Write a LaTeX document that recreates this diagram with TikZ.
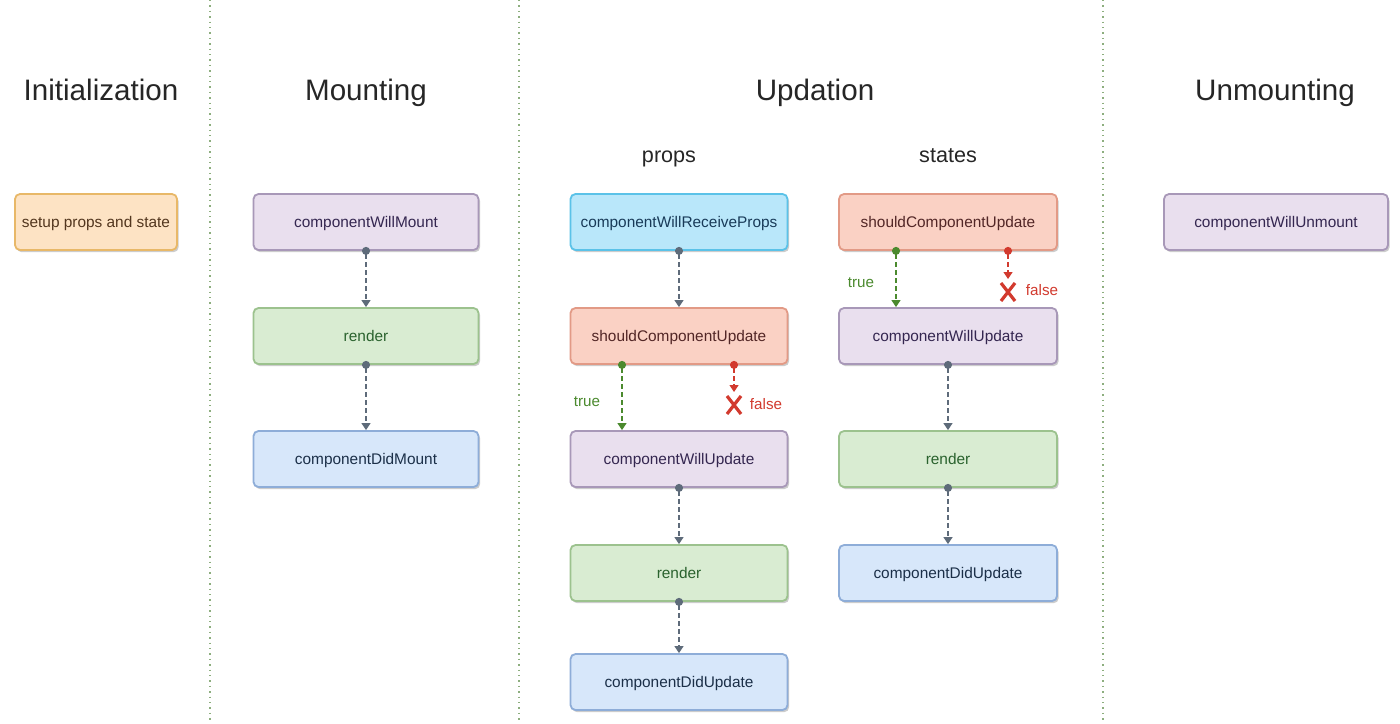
\documentclass[tikz,border=0pt]{standalone}
\usepackage{fontspec}
\setmainfont{Liberation Sans}
\usetikzlibrary{arrows.meta,shadows}
\definecolor{purpfill}{HTML}{E9DFEE}\definecolor{purpline}{HTML}{A898B8}\definecolor{purptext}{HTML}{342650}
\definecolor{grnfill}{HTML}{D9ECD2}\definecolor{grnline}{HTML}{9CC28E}\definecolor{grntext}{HTML}{2A622E}
\definecolor{bluefill}{HTML}{D7E7FA}\definecolor{blueline}{HTML}{8EADD8}\definecolor{bluetext}{HTML}{1B2F48}
\definecolor{cyanfill}{HTML}{B9E7FA}\definecolor{cyanline}{HTML}{5BC2E8}\definecolor{cyantext}{HTML}{183A58}
\definecolor{salmfill}{HTML}{FAD1C4}\definecolor{salmline}{HTML}{E29A86}\definecolor{salmtext}{HTML}{522626}
\definecolor{orgfill}{HTML}{FDE3C4}\definecolor{orgline}{HTML}{E8B868}\definecolor{orgtext}{HTML}{52361E}
\definecolor{flowgray}{HTML}{5E6B7A}\definecolor{yesgreen}{HTML}{4B8A2E}\definecolor{nored}{HTML}{D23A2E}
\definecolor{divgreen}{HTML}{8DAE7E}

\begin{document}
\begin{tikzpicture}[x=0.5pt,y=-0.5pt,
  box/.style={draw,line width=0.9pt,rounded corners=2.5pt,minimum height=28pt,
    text height=5.5pt,text depth=0pt,
    font=\fontsize{7.7}{9}\selectfont,
    drop shadow={shadow xshift=0.8pt,shadow yshift=-1.1pt,opacity=0.4}},
  purp/.style={box,fill=purpfill,draw=purpline,text=purptext},
  grn/.style={box,fill=grnfill,draw=grnline,text=grntext},
  blu/.style={box,fill=bluefill,draw=blueline,text=bluetext},
  cyn/.style={box,fill=cyanfill,draw=cyanline,text=cyantext},
  salm/.style={box,fill=salmfill,draw=salmline,text=salmtext},
  org/.style={box,fill=orgfill,draw=orgline,text=orgtext},
  phase/.style={anchor=base,font=\fontsize{14.8}{18}\selectfont,text=black!85},
  sub/.style={anchor=base,font=\fontsize{10.8}{13}\selectfont,text=black!85},
  flow/.style={flowgray,line width=0.6pt,dash pattern=on 2.5pt off 1.5pt,shorten <=-2pt,
    {Circle[length=4pt]}-{Triangle[length=3.5pt,width=4.5pt]}},
  yes/.style={flow,yesgreen},
  no/.style={flow,nored},
  nope/.style={nored,line width=1.6pt},
  tag/.style={font=\fontsize{7.6}{9}\selectfont}]
  \useasboundingbox[fill=white] (0,0) rectangle (1400,723);
  % phase dividers
  \foreach \xd in {210,519,1103}
    \draw[divgreen,dotted,line width=0.7pt] (\xd,0) -- (\xd,723);
  % phase titles
  \node[phase] (tinit) at (101,100) {Initialization};
  \node[phase] (tmount) at (366,100) {Mounting};
  \node[phase] (tupd) at (815,100) {Updation};
  \node[phase] (tunm) at (1275,100) {Unmounting};
  \node[sub] (tprops) at (669,162) {props};
  \node[sub] (tstates) at (948,162) {states};
  % initialization
  \node[org,minimum width=81pt] (init) at (96,222) {setup props and state};
  % mounting
  \node[purp,minimum width=112.5pt] (m1) at (366,222) {componentWillMount};
  \node[grn,minimum width=112.5pt] (m2) at (366,336) {render};
  \node[blu,minimum width=112.5pt] (m3) at (366,459) {componentDidMount};
  \draw[flow] (m1) -- (m2);
  \draw[flow] (m2) -- (m3);
  % updation via props
  \node[cyn,minimum width=108.5pt] (p1) at (679,222) {componentWillReceiveProps};
  \node[salm,minimum width=108.5pt] (p2) at (679,336) {shouldComponentUpdate};
  \node[purp,minimum width=108.5pt] (p3) at (679,459) {componentWillUpdate};
  \node[grn,minimum width=108.5pt] (p4) at (679,573) {render};
  \node[blu,minimum width=108.5pt] (p5) at (679,682) {componentDidUpdate};
  \draw[flow] (p1) -- (p2);
  \draw[yes] ([xshift=-28.5pt]p2.south) -- ([xshift=-28.5pt]p3.north);
  \coordinate (pno) at (734,392);
  \draw[no] ([xshift=27.5pt]p2.south) -- (pno);
  \draw[nope] (734,405) +(-7,-9) -- +(7,9) +(-7,9) -- +(7,-9);
  \node[tag,yesgreen] (ptrue) at (587,402) {true};
  \node[tag,nored] (pfalse) at (766,404) {false};
  \draw[flow] (p3) -- (p4);
  \draw[flow] (p4) -- (p5);
  % updation via states
  \node[salm,minimum width=109pt] (s1) at (948,222) {shouldComponentUpdate};
  \node[purp,minimum width=109pt] (s2) at (948,336) {componentWillUpdate};
  \node[grn,minimum width=109pt] (s3) at (948,459) {render};
  \node[blu,minimum width=109pt] (s4) at (948,573) {componentDidUpdate};
  \draw[yes] ([xshift=-26pt]s1.south) -- ([xshift=-26pt]s2.north);
  \coordinate (sno) at (1008,279);
  \draw[no] ([xshift=30pt]s1.south) -- (sno);
  \draw[nope] (1008,292) +(-7,-9) -- +(7,9) +(-7,9) -- +(7,-9);
  \node[tag,yesgreen] (strue) at (861,283) {true};
  \node[tag,nored] (sfalse) at (1042,290) {false};
  \draw[flow] (s2) -- (s3);
  \draw[flow] (s3) -- (s4);
  % unmounting
  \node[purp,minimum width=112pt] (u1) at (1276,222) {componentWillUnmount};
\end{tikzpicture}
\end{document}
